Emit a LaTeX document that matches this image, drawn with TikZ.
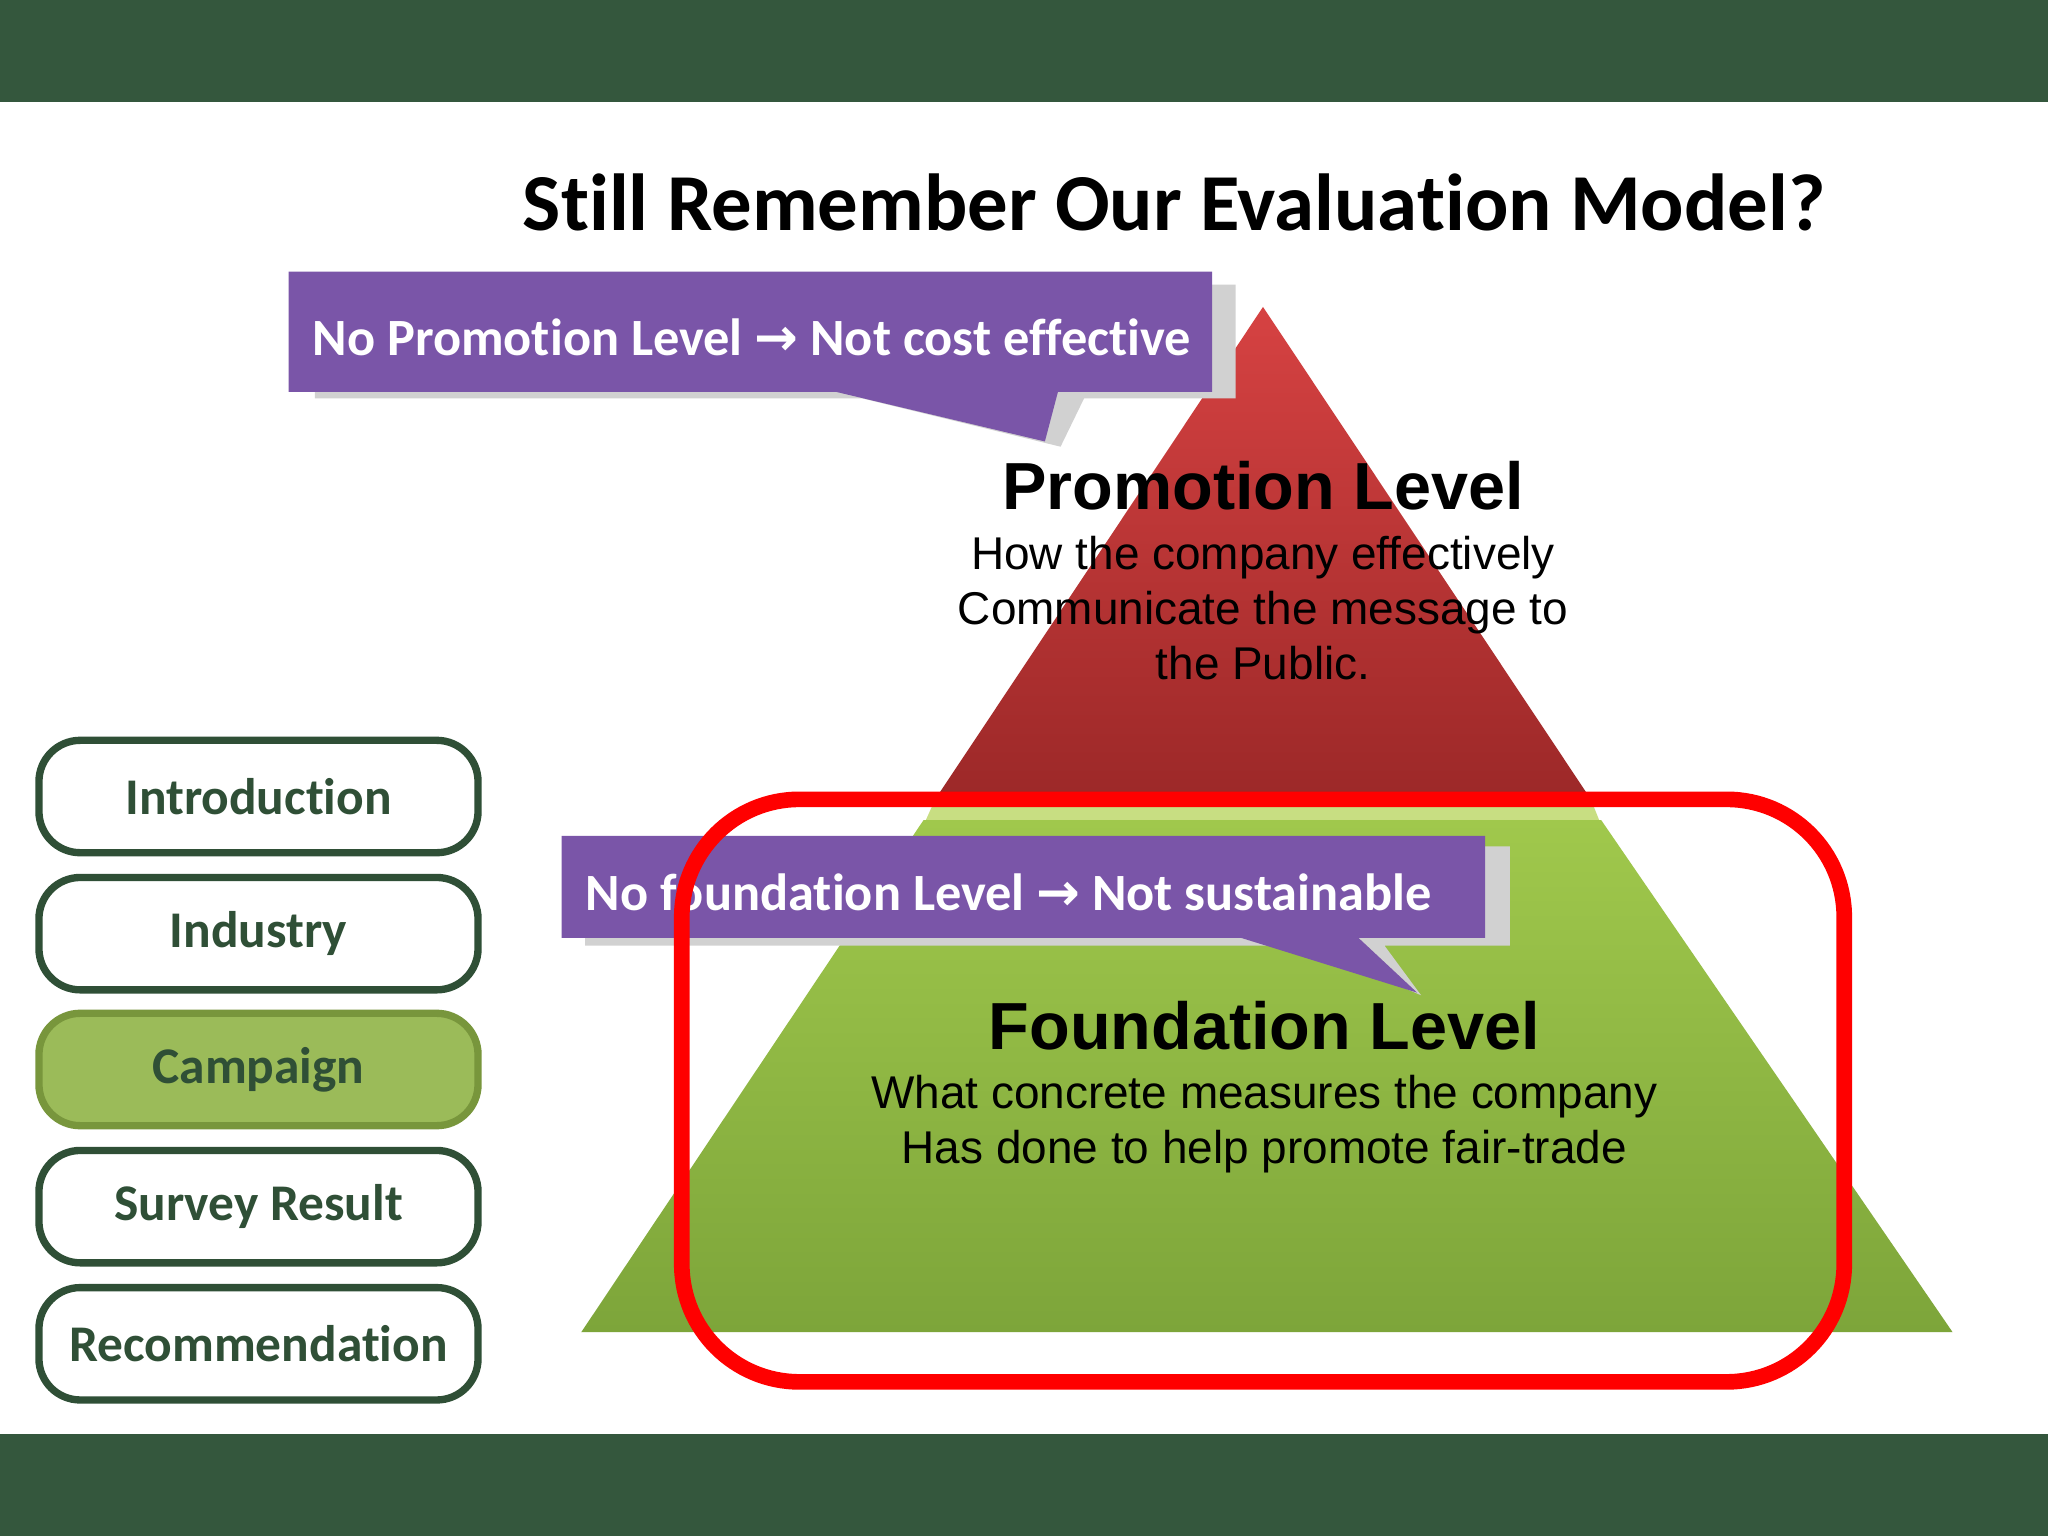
\documentclass[tikz,border=0pt]{standalone}
\usepackage{fontspec}
\setmainfont{Carlito}[Ligatures={NoCommon,NoRequired}]
\newfontfamily\arialf{Liberation Sans}
\newfontfamily\djv{DejaVu Sans}
\definecolor{dkgreen}{HTML}{34573D}
\definecolor{navtext}{HTML}{2F4F36}
\definecolor{purp}{HTML}{7A55A8}
\definecolor{lgreen}{HTML}{9BBB59}
\definecolor{redtop}{RGB}{214,66,66}
\definecolor{redbot}{RGB}{156,40,40}
\definecolor{stripe}{RGB}{200,222,130}
\definecolor{grtop}{RGB}{160,200,76}
\definecolor{grbot}{RGB}{125,165,58}
\definecolor{campborder}{RGB}{120,150,60}
\tikzset{
  navbtn/.style={draw=navtext, line width=1.6pt, rounded corners=9pt, minimum width=3.36cm, minimum height=0.86cm, inner xsep=0pt, font=\fontsize{11.2}{13}\selectfont\bfseries, text=navtext, fill=white, anchor=north west},
  calltext/.style={text=white, font=\fontsize{11.4}{13}\selectfont\bfseries, anchor=west},
  pyrtitle/.style={font=\arialf\bfseries\fontsize{14.5}{16}\selectfont, text=black},
  pyrbody/.style={font=\arialf\fontsize{10}{12}\selectfont, text=black, align=center},
}
\begin{document}
\begin{tikzpicture}[x=0.01cm,y=-0.01cm]
\useasboundingbox (0,0) rectangle (1568,1176);
\fill[white] (0,0) rectangle (1568,1176);
\fill[dkgreen] (0,0) rectangle (1568,78);
\fill[dkgreen] (0,1098) rectangle (1568,1176);
\node[font=\fontsize{17.6}{20}\selectfont\bfseries] (title) at (899,155) {Still Remember Our Evaluation Model?};
% pyramid
\shade[top color=redtop, bottom color=redbot] (967,235) -- (1218,612) -- (716,612) -- cycle;
\fill[stripe] (716,612) -- (1218,612) -- (1226,632) -- (707,632) -- cycle;
\shade[top color=grtop, bottom color=grbot] (707,628) -- (1226,628) -- (1495,1020) -- (445,1020) -- cycle;
\node[pyrtitle] (pt) at (967,372) {Promotion Level};
\node[pyrbody, anchor=north] (pb) at (967,398) {How the company effectively\\Communicate the message to\\the Public.};
\node[pyrtitle] (ft) at (968,785) {Foundation Level};
\node[pyrbody, anchor=north] (fb) at (968,811) {What concrete measures the company\\Has done to help promote fair-trade};
% callout 1
\fill[black!18] (241,218) -- (946,218) -- (946,305) -- (830,305) -- (812,342) -- (660,305) -- (241,305) -- cycle;
\fill[purp] (221,208) -- (928,208) -- (928,300) -- (810,300) -- (800,338) -- (640,300) -- (221,300) -- cycle;
\node[calltext] (c1) at (227,258) {No Promotion Level {\djv\bfseries →} Not cost effective};
% callout 2
\fill[black!18] (448,648) -- (1156,648) -- (1156,724) -- (1060,724) -- (1088,762) -- (1000,724) -- (448,724) -- cycle;
\fill[purp] (430,640) -- (1137,640) -- (1137,718) -- (1040,718) -- (1085,760) -- (950,718) -- (430,718) -- cycle;
\node[calltext] (c2) at (436,683) {No foundation Level {\djv\bfseries →} Not sustainable};
% red highlight
\draw[red, line width=0.12cm, rounded corners=0.9cm] (522,612) rectangle (1412,1058);
% nav
\node[navbtn] (n1) at (27,564) {Introduction};
\node[navbtn] (n2) at (27,669) {Industry};
\node[navbtn, fill=lgreen, draw=campborder] (n3) at (27,773) {Campaign};
\node[navbtn] (n4) at (27,878) {Survey Result};
\node[navbtn] (n5) at (27,983) {Recommendation};
\end{tikzpicture}
\end{document}
